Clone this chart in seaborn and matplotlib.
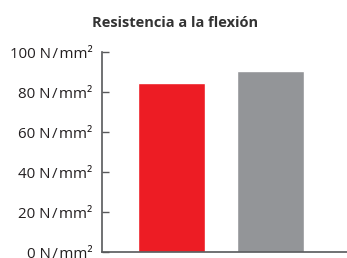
import matplotlib
matplotlib.use("Agg")
import matplotlib.pyplot as plt
import seaborn as sns
import pandas as pd

C_ROJO = "#ed1c24"
C_GRIS = "#939598"
C_TEXTO = "#231f20"
C_EJE = "#58595b"

categorias = ["Producto A", "Producto B"]
valores = [84.5, 90.5]
ticks_y = [0, 20, 40, 60, 80, 100]
etiquetas_y = [f"{v} N\u200a/\u200amm²" for v in ticks_y]
titulo = "Resistencia a la flexión"

sns.set_theme(style="white")
plt.rcParams['font.family'] = ['Open Sans', 'DejaVu Sans']
plt.rcParams['text.color'] = C_TEXTO

df = pd.DataFrame({'cat': categorias, 'valor': valores})

fig = plt.figure(figsize=(3.47, 2.58), dpi=100)
ax = fig.add_axes([0.294, 0.023, 0.706, 0.775])

sns.barplot(data=df, x='cat', y='valor', hue='cat',
            palette=[C_ROJO, C_GRIS], legend=False, width=0.68,
            saturation=1, ax=ax)

ax.set_ylim(0, 100)
ax.set_xlim(-0.70, 1.77)
ax.set_yticks(ticks_y)
ax.set_yticklabels(etiquetas_y, fontsize=10.8, color=C_TEXTO)
ax.set_xticks([])
ax.set_xlabel("")
ax.set_ylabel("")
ax.tick_params(axis='y', direction='in', length=5, width=1, color=C_EJE, pad=7, left=True)

for lado in ['top', 'right']:
    ax.spines[lado].set_visible(False)
for lado in ['left', 'bottom']:
    ax.spines[lado].set_color(C_EJE)
    ax.spines[lado].set_linewidth(1.2)

fig.text(0.505, 0.912, titulo, ha='center', va='center', fontsize=10.5,
         weight='bold', color="#333333")

fig.savefig("out.png", dpi=100)
plt.close(fig)
